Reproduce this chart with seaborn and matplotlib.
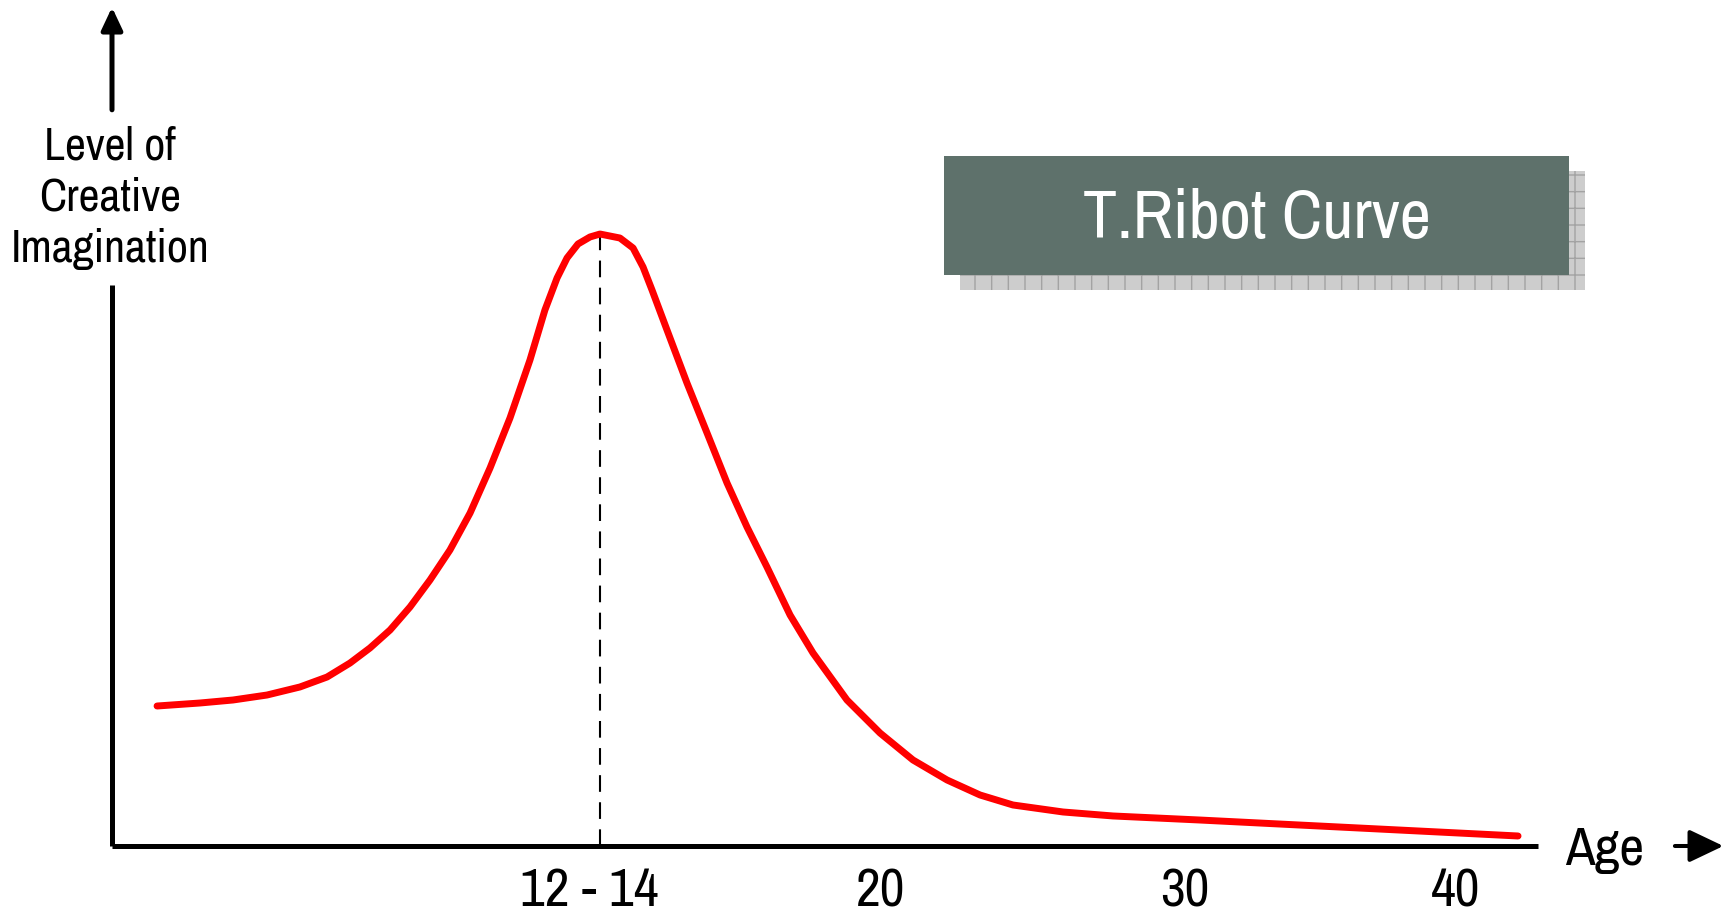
import matplotlib
matplotlib.use("Agg")
import matplotlib.pyplot as plt
from matplotlib.patches import FancyArrowPatch, Rectangle
import seaborn as sns

# Ribot curve: position along the age axis (0..100)
# against level of creative imagination (axis top = 100).
age_pos = [3.16, 6.17, 8.49, 10.87, 13.18, 15.08, 16.69, 18.09, 19.50, 20.90,
           22.30, 23.70, 25.11, 26.51, 27.91, 29.31, 30.36, 31.21, 31.91, 32.68,
           33.52, 34.22, 35.62, 36.54, 37.24, 37.87, 38.92, 40.32, 41.73, 43.13,
           44.53, 45.93, 47.55, 49.16, 51.54, 53.86, 56.17, 58.56, 60.87, 63.18,
           66.69, 70.20, 76.30, 98.60]
level = [22.80, 23.29, 23.78, 24.59, 25.90, 27.52, 29.80, 32.25, 35.18, 38.93,
         43.32, 48.21, 54.23, 61.56, 69.71, 79.15, 87.30, 92.51, 95.77, 98.05,
         99.19, 99.67, 99.02, 97.39, 94.30, 90.55, 84.04, 75.41, 67.26, 59.12,
         51.95, 45.44, 37.62, 31.43, 23.78, 18.40, 14.01, 10.75, 8.31, 6.68,
         5.54, 4.89, 4.23, 1.63]

peak_pos, peak_level = 34.22, 99.67
tick_pos = [33.45, 53.9, 75.25, 94.2]
tick_labels = ["12 - 14", "20", "30", "40"]

title = "T.Ribot Curve"
ylabel = "Level of\nCreative\nImagination"
xlabel = "Age"

sns.set_style("white")
plt.rcParams["font.family"] = ["Archivo Narrow", "Roboto Condensed", "Liberation Sans", "DejaVu Sans"]
plt.rcParams["hatch.linewidth"] = 1.0

W, H = 1732, 917
fig = plt.figure(figsize=(W / 100, H / 100), dpi=100)
ax = fig.add_axes([0, 0, 1, 1])
ax.set_axis_off()

# pixel frame of the drawn axes: origin at (112, 846), x=100 at 1538, y=100 at 232
x0_px, x100_px = 112, 1538
y0_px, y100_px = 846, 232
sx = (x100_px - x0_px) / 100
sy = (y0_px - y100_px) / 100
ax.set_xlim(-x0_px / sx, (W - x0_px) / sx)
ax.set_ylim((y0_px - H) / sy, y0_px / sy)

# axes drawn by hand, the y axis broken for its label
ax.plot([0, 100], [0, 0], color="black", lw=3.6, solid_capstyle="butt", zorder=3)
ax.plot([0, 0], [0, 91.4], color="black", lw=3.6, solid_capstyle="butt", zorder=3)
ax.add_patch(FancyArrowPatch((0, 119.9), (0, 136.6), arrowstyle="-|>,head_length=0.68,head_width=0.32",
                             mutation_scale=20, lw=3.6, color="black", shrinkA=0, shrinkB=0))
ax.add_patch(FancyArrowPatch((109.6, 0), (113.0, 0), arrowstyle="-|>,head_length=1.05,head_width=0.5",
                             mutation_scale=20, lw=2.9, color="black", shrinkA=0, shrinkB=0))

# peak marker
ax.plot([peak_pos, peak_pos], [0, peak_level], color="black", lw=1.5, dashes=(8, 5), zorder=2)

sns.lineplot(x=age_pos, y=level, ax=ax, color="#ff0000", lw=5.0, sort=False,
             estimator=None, zorder=4)

for pos, lab in zip(tick_pos, tick_labels):
    ax.text(pos, -9.8, lab, ha="center", va="baseline", fontsize=39, color="black")

ax.text(104.7, -3.1, xlabel, ha="center", va="baseline", fontsize=39, color="black")
ax.text(-0.14, 105.6, ylabel, ha="center", va="center", fontsize=33, linespacing=1.27,
        color="black")

# title box with hatched drop shadow
bx0, bx1 = 58.35, 102.17
by0, by1 = 93.0, 112.38
dx, dy = 16 / sx, -15 / sy
ax.add_patch(Rectangle((bx0 + dx, by0 + dy), bx1 - bx0, by1 - by0, facecolor="#cdcdcd",
                       edgecolor="#a3a3a3", hatch="+", lw=0, zorder=5))
ax.add_patch(Rectangle((bx0, by0), bx1 - bx0, by1 - by0, facecolor="#5e716b",
                       edgecolor="none", zorder=6))
ax.text((bx0 + bx1) / 2, 99.0, title, ha="center", va="baseline", fontsize=49,
        color="white", zorder=7)

fig.savefig("out.png", dpi=100, facecolor="white")
